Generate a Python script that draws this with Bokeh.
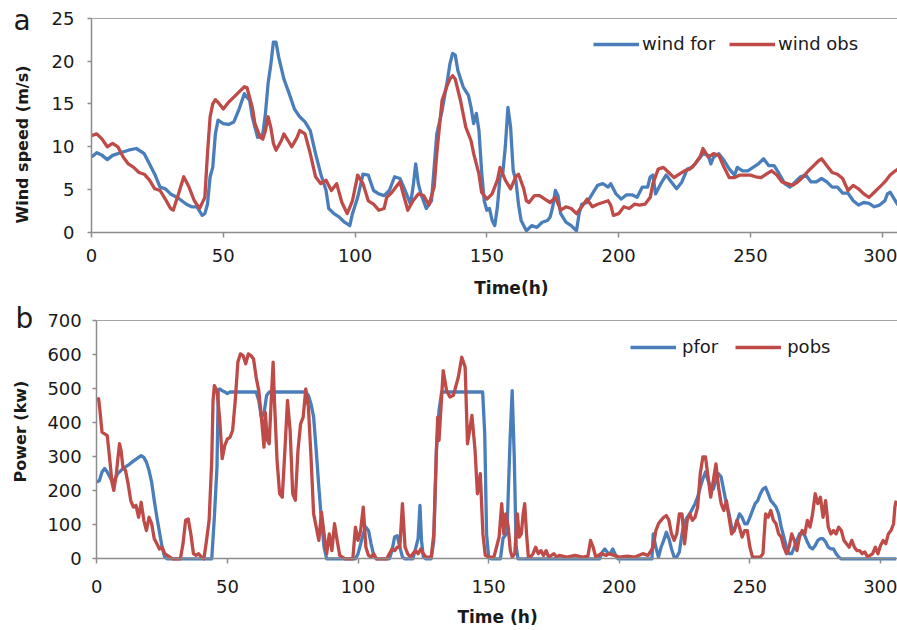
import math
from bokeh.plotting import figure
from bokeh.layouts import column
from bokeh.models import (Range1d, Label, Legend, LegendItem, FixedTicker,
                          LinearAxis)
from bokeh.embed import file_html
from bokeh.resources import INLINE

# ---------------- data ----------------
x_ticks = [0, 50, 100, 150, 200, 250, 300]
wind_ticks = [0, 5, 10, 15, 20, 25]
power_ticks = [0, 100, 200, 300, 400, 500, 600, 700]

wind_for_t = [0, 2, 4, 6, 8, 10, 14, 17, 20, 22,
              24, 26, 28, 30, 33, 36, 38, 40, 42, 43,
              44, 45, 46, 47, 48, 50, 52, 54, 56, 58,
              60, 61, 63, 65, 66, 67, 68, 69, 70, 71,
              73, 75, 77, 79, 81, 83, 85, 87, 89, 90,
              92, 94, 96, 98, 99, 101, 103, 105, 107, 109,
              111, 113, 115, 117, 119, 121, 122, 123, 124, 125,
              127, 129, 131, 133, 135, 136, 137, 138, 139, 141,
              143, 144, 145, 146, 147, 148, 149, 150, 151, 152,
              153, 154, 155, 156, 157, 158, 159, 160, 161, 162,
              163, 165, 167, 169, 171, 173, 174, 175, 176, 177,
              178, 180, 182, 184, 185, 186, 188, 190, 192, 194,
              196, 197, 199, 201, 203, 205, 207, 209, 211, 212,
              213, 214, 216, 218, 220, 222, 224, 226, 228, 230,
              232, 234, 235, 236, 238, 240, 242, 244, 245, 247,
              249, 251, 253, 255, 257, 259, 261, 263, 265, 267,
              269, 271, 273, 275, 277, 279, 281, 283, 285, 287,
              289, 291, 293, 295, 297, 299, 301, 302, 303, 305,
              306]
wind_for = [8.8, 9.3, 9.0, 8.5, 9.0, 9.2, 9.6, 9.8, 9.2, 8.0,
            6.8, 5.3, 5.1, 4.5, 4.0, 3.3, 3.0, 3.0, 2.0, 2.2,
            3.3, 6.5, 7.6, 11.5, 13.1, 12.7, 12.6, 12.9, 14.4, 16.2,
            15.4, 13.5, 11.1, 11.5, 13.9, 17.4, 19.5, 22.2, 22.2, 20.5,
            17.9, 16.2, 14.4, 13.5, 12.9, 11.9, 9.2, 6.8, 4.9, 2.8,
            2.2, 1.8, 1.2, 0.8, 2.2, 4.1, 6.8, 6.7, 4.9, 4.5,
            4.3, 4.9, 6.5, 6.3, 4.9, 3.3, 5.3, 8.0, 5.7, 4.5,
            2.8, 3.7, 11.5, 14.2, 17.7, 19.7, 20.9, 20.7, 18.9, 17.0,
            16.0, 14.6, 12.7, 13.9, 11.9, 7.2, 3.7, 2.6, 2.8, 1.4,
            0.8, 3.0, 6.5, 6.8, 10.0, 14.6, 12.3, 7.2, 6.1, 3.3,
            1.4, 0.2, 0.8, 0.6, 1.2, 1.4, 1.8, 3.0, 4.9, 4.3,
            2.2, 1.2, 0.8, 0.2, 2.2, 3.3, 3.5, 4.5, 5.5, 5.7,
            5.3, 5.7, 4.5, 3.9, 4.4, 4.4, 4.1, 5.3, 5.3, 6.5,
            6.7, 4.5, 5.7, 6.7, 5.9, 5.1, 5.9, 7.4, 7.6, 8.4,
            9.2, 9.0, 8.0, 8.8, 9.2, 8.4, 7.4, 6.7, 7.6, 7.2,
            7.2, 7.6, 8.0, 8.6, 7.8, 7.8, 6.8, 5.7, 5.3, 5.9,
            6.5, 6.7, 5.9, 5.9, 6.3, 5.9, 5.3, 5.3, 4.6, 4.6,
            3.7, 3.2, 3.5, 3.4, 3.0, 3.2, 3.7, 4.5, 4.7, 3.7,
            3.2]

wind_obs_t = [0, 2, 4, 6, 8, 10, 12, 14, 16, 18,
              20, 22, 24, 26, 28, 30, 31, 33, 35, 37,
              39, 41, 43, 44, 45, 46, 47, 48, 50, 52,
              54, 56, 58, 59, 61, 62, 64, 65, 66, 67,
              68, 69, 70, 72, 73, 75, 76, 78, 79, 81,
              83, 85, 87, 89, 91, 93, 95, 97, 99, 101,
              103, 105, 107, 109, 111, 112, 114, 116, 117, 119,
              120, 122, 124, 126, 128, 130, 131, 133, 135, 136,
              137, 138, 140, 142, 144, 145, 147, 148, 150, 152,
              154, 155, 157, 159, 161, 162, 164, 165, 166, 168,
              170, 172, 174, 176, 178, 180, 182, 184, 186, 188,
              190, 192, 194, 196, 197, 198, 200, 202, 204, 206,
              208, 210, 212, 213, 215, 217, 219, 221, 223, 225,
              227, 229, 231, 232, 234, 236, 238, 240, 242, 244,
              246, 248, 250, 252, 254, 256, 258, 260, 262, 264,
              266, 268, 270, 272, 274, 276, 277, 279, 281, 283,
              285, 287, 289, 291, 293, 295, 297, 299, 301, 303,
              305, 306]
wind_obs = [11.3, 11.5, 10.9, 10.0, 10.4, 10.0, 8.8, 8.0, 7.6, 7.0,
            6.8, 6.1, 5.1, 4.9, 3.9, 2.8, 2.6, 4.5, 6.5, 5.3,
            3.7, 2.8, 4.1, 9.2, 13.5, 15.0, 15.5, 15.2, 14.4, 15.2,
            15.8, 16.4, 17.0, 16.9, 14.6, 12.7, 11.1, 10.9, 11.9, 13.5,
            12.3, 10.4, 9.6, 10.7, 11.5, 10.5, 10.0, 11.1, 11.9, 11.5,
            9.2, 6.5, 5.7, 6.1, 4.9, 5.7, 3.5, 2.2, 3.7, 6.7,
            5.7, 3.7, 3.3, 2.6, 2.8, 4.1, 4.7, 5.5, 5.9, 3.7,
            2.6, 3.7, 4.5, 4.3, 3.2, 5.3, 9.2, 15.4, 17.2, 17.9,
            18.3, 17.9, 15.4, 12.3, 10.7, 9.2, 6.8, 4.7, 3.9, 4.5,
            6.1, 7.6, 6.1, 5.1, 6.5, 6.8, 5.1, 3.7, 3.5, 4.3,
            4.3, 3.9, 3.5, 4.1, 2.6, 3.0, 2.8, 2.2, 3.0, 3.9,
            3.0, 3.3, 3.5, 3.7, 3.2, 2.0, 2.2, 3.0, 2.8, 3.3,
            3.2, 3.3, 4.1, 5.7, 7.4, 7.6, 7.0, 6.4, 6.8, 7.2,
            7.4, 8.0, 8.9, 9.8, 8.8, 9.2, 9.0, 7.6, 6.4, 6.4,
            6.7, 6.7, 6.7, 6.5, 6.4, 6.8, 7.2, 6.7, 5.9, 5.7,
            5.5, 5.9, 6.5, 7.2, 7.8, 8.4, 8.6, 7.8, 7.0, 6.8,
            6.3, 4.9, 5.5, 5.1, 4.5, 4.1, 4.7, 5.3, 5.9, 6.7,
            7.2, 7.4]

pfor_t = [0, 1, 2, 3, 4, 5, 6, 7, 8, 10,
          12, 14, 16, 17, 18, 19, 20, 21, 22, 23,
          24, 25, 26, 27, 44, 45, 46, 46.5, 47, 48,
          49, 50, 51, 61, 62, 63, 64, 65, 66, 80,
          81, 82, 83, 84, 85, 86, 87, 88, 99, 100,
          101, 102, 103, 104, 105, 106, 107, 112, 113, 114,
          115, 116, 117, 118, 121, 122, 123, 123.7, 124.3, 125,
          126, 128, 129, 130, 131, 132, 147.7, 148.5, 149.2, 150,
          151, 154.5, 155.5, 157, 158.2, 159, 159.8, 160.5, 161.2, 192.5,
          193.5, 194.5, 195.5, 196.5, 197.5, 198.5, 199.5, 212.5, 213, 214,
          215, 216, 217, 218, 219, 220, 221, 222, 223, 224,
          225, 226, 227, 228, 229, 230, 231, 232, 233, 234,
          235, 236, 237, 238, 239, 240, 241, 242, 243, 244,
          245, 246, 247, 248, 249, 250, 251, 252, 253, 254,
          255, 256, 257, 258, 259, 260, 261, 262, 263, 264,
          265, 266, 267, 268, 269, 270, 271, 272, 273, 274,
          275, 276, 277, 278, 279, 280, 281, 282, 283, 284,
          285, 306]
pfor = [225, 230, 255, 265, 255, 240, 225, 235, 250, 265,
        275, 287, 298, 303, 298, 284, 259, 225, 171, 122,
        78, 34, 5, 0, 0, 122, 269, 494, 499, 494,
        490, 485, 490, 490, 465, 416, 426, 480, 490, 490,
        480, 455, 416, 318, 210, 113, 34, 0, 0, 15,
        44, 73, 93, 83, 44, 10, 0, 0, 24, 64,
        68, 34, 5, 0, 0, 29, 59, 157, 54, 5,
        0, 0, 54, 318, 436, 490, 490, 367, 73, 5,
        0, 0, 60, 75, 350, 494, 300, 40, 0, 0,
        20, 29, 18, 15, 29, 12, 0, 0, 73, 34,
        5, 34, 54, 78, 59, 29, 5, 5, 20, 73,
        108, 122, 132, 147, 162, 181, 210, 235, 255, 230,
        210, 205, 230, 250, 240, 201, 162, 132, 93, 83,
        108, 132, 122, 103, 103, 122, 142, 162, 171, 191,
        205, 210, 191, 171, 162, 152, 132, 93, 64, 34,
        15, 15, 34, 54, 73, 78, 68, 49, 34, 29,
        39, 54, 59, 59, 49, 34, 29, 29, 15, 5,
        0, 0]

pobs_t = [0, 0.7, 1.2, 2, 3, 4, 5, 5.8, 6.5, 7.5,
          8, 8.7, 9.3, 10, 11, 12, 13, 14, 15, 16,
          17, 18, 19, 20, 21, 22, 23, 24, 25, 26,
          27, 28, 29, 32, 33, 34, 35, 36, 37, 38,
          39, 40, 41, 42, 43, 44, 44.5, 45, 46, 47,
          48, 49, 50, 51, 52, 53, 54, 55, 56, 57,
          58, 59, 60, 61, 62, 63, 64, 64.5, 65.3, 66,
          67, 67.5, 68, 69, 70, 71, 72, 73, 74, 75,
          76, 77, 78, 79, 80, 81, 82, 83, 84, 85,
          86, 87, 88, 89, 90, 91, 92, 93, 94, 95,
          98, 99, 100, 101, 102, 103, 104, 105, 106, 107,
          111, 112, 113, 114, 115, 116, 117, 118, 119, 120,
          121, 122, 123, 124, 125, 126, 128, 129, 130, 130.5,
          131, 132.6, 133.9, 135.2, 136.5, 138.4, 139.7, 141, 141.9, 143.6,
          144.8, 145.7, 146.8, 147.8, 148.7, 150, 152, 153, 154, 155,
          155.8, 156.5, 157.5, 158.3, 159, 160, 161, 161.7, 162.5, 163.2,
          163.8, 164.5, 165.2, 166, 167, 168, 169, 170, 171, 172,
          173, 174, 175, 176, 177, 180, 183, 186, 188, 189,
          190, 191, 193, 195, 196, 198, 200, 203, 206, 209,
          211, 213, 214, 215, 216, 217, 218, 219, 220, 221,
          222, 223, 224, 225, 226, 227, 228, 229, 230, 231,
          232, 233, 234, 235, 236, 237, 238, 239, 240, 241,
          242, 243, 244, 245, 246, 247, 248, 249, 250, 251,
          254, 255, 256, 257, 258, 259, 260, 261, 262, 263,
          264, 265, 266, 267, 268, 269, 270, 271, 272, 273,
          274, 275, 276, 277, 278, 279, 280, 281, 282, 283,
          284, 285, 286, 287, 288, 289, 290, 291, 292, 293,
          294, 295, 296, 297, 298, 299, 300, 301, 302, 303,
          304, 305, 305.5, 306]
pobs = [465, 470, 436, 372, 367, 362, 289, 225, 201, 250,
        289, 338, 318, 269, 259, 220, 171, 152, 157, 122,
        166, 113, 83, 122, 103, 59, 44, 29, 34, 15,
        10, 5, 0, 0, 44, 113, 117, 73, 15, 10,
        15, 5, 0, 54, 113, 289, 465, 509, 494, 416,
        294, 333, 352, 357, 377, 465, 578, 602, 597, 573,
        602, 597, 587, 533, 494, 416, 328, 430, 348, 338,
        504, 578, 465, 289, 191, 181, 318, 465, 377, 191,
        172, 318, 396, 416, 499, 445, 299, 132, 93, 54,
        137, 73, 15, 73, 24, 103, 54, 10, 5, 0,
        0, 93, 54, 83, 152, 34, 10, 5, 15, 0,
        0, 15, 29, 24, 34, 34, 162, 34, 15, 5,
        15, 24, 15, 29, 15, 5, 5, 73, 318, 416,
        348, 553, 494, 475, 480, 534, 592, 563, 338, 421,
        318, 191, 250, 73, 10, 5, 5, 34, 64, 162,
        73, 132, 93, 24, 5, 15, 132, 64, 73, 132,
        162, 73, 5, 5, 15, 34, 15, 24, 10, 24,
        5, 10, 15, 5, 10, 5, 10, 5, 8, 54,
        34, 5, 15, 10, 15, 10, 5, 8, 5, 15,
        10, 34, 83, 103, 113, 122, 127, 113, 73, 54,
        73, 132, 132, 44, 113, 132, 113, 122, 152, 250,
        299, 299, 240, 181, 230, 279, 210, 162, 142, 171,
        122, 73, 83, 113, 93, 64, 83, 83, 34, 5,
        5, 15, 132, 122, 142, 113, 103, 73, 64, 34,
        15, 34, 73, 54, 24, 64, 83, 73, 113, 93,
        132, 191, 162, 181, 122, 171, 93, 73, 83, 73,
        93, 83, 54, 44, 34, 54, 34, 24, 24, 15,
        20, 5, 10, 15, 34, 15, 39, 54, 44, 73,
        83, 103, 152, 171]

# ---------------- style ----------------
BLUE = "#4A7EBB"
RED = "#BE4B48"
AXIS = "#8C8C8C"
FRAME = "#A6A6A6"
TXT = "#1A1A1A"
FONT = "DejaVu Sans"
W = 897
LW = 3.3


def make_panel(height, xr, yr, yticks, y_top, x_standoff, y_standoff):
    # The frame fills the whole canvas; axes are pinned at x=0 / y=0 so
    # that panel letters and axis titles can live inside the frame.
    p = figure(width=W, height=height, output_backend="svg",
               toolbar_location=None, x_axis_location=None,
               y_axis_location=None,
               x_range=Range1d(*xr), y_range=Range1d(*yr),
               min_border=0, min_border_left=0, min_border_right=0,
               min_border_top=0, min_border_bottom=0)
    p.title.visible = False
    p.outline_line_color = None
    p.xgrid.visible = False
    p.ygrid.visible = False
    p.background_fill_color = "white"
    p.border_fill_color = "white"

    xax = LinearAxis(fixed_location=0, bounds=(0, xr[1]),
                     ticker=FixedTicker(ticks=x_ticks))
    yax = LinearAxis(fixed_location=0, bounds=(0, y_top),
                     ticker=FixedTicker(ticks=yticks))
    top = LinearAxis(fixed_location=y_top, bounds=(0, xr[1]),
                     ticker=FixedTicker(ticks=[]),
                     axis_line_color=FRAME, axis_line_width=1.2,
                     major_tick_line_color=None,
                     minor_tick_line_color=None,
                     major_label_text_font_size="0px")
    for ax in (xax, yax):
        ax.axis_line_color = AXIS
        ax.axis_line_width = 1.5
        ax.major_tick_line_color = AXIS
        ax.major_tick_line_width = 1.5
        ax.major_tick_in = 0
        ax.minor_tick_line_color = None
        ax.major_label_text_font = FONT
        ax.major_label_text_font_size = "18px"
        ax.major_label_text_color = TXT
    xax.major_tick_out = 5
    yax.major_tick_out = 4
    xax.major_label_standoff = x_standoff
    yax.major_label_standoff = y_standoff
    p.add_layout(xax, "below")
    p.add_layout(yax, "left")
    p.add_layout(top, "above")
    return p


def add_label(p, text, x, y, size, bold=True, angle=0.0,
              align="center", baseline="middle"):
    p.add_layout(Label(x=x, y=y, text=text, angle=angle, text_font=FONT,
                       text_font_size=size,
                       text_font_style="bold" if bold else "normal",
                       text_color=TXT, text_align=align,
                       text_baseline=baseline))


def add_legend(p, renderers, labels, loc, standoff, spacing):
    items = [LegendItem(label=l, renderers=[r])
             for l, r in zip(labels, renderers)]
    leg = Legend(items=items, orientation="horizontal", location=loc,
                 glyph_width=46, glyph_height=18, label_height=18,
                 label_standoff=standoff, spacing=spacing,
                 padding=0, margin=0, border_line_color=None,
                 background_fill_alpha=0, label_text_font=FONT,
                 label_text_font_size="18px", label_text_color=TXT)
    p.add_layout(leg)


# ---------------- panel a ----------------
# pixel anchors: x=0 at 91px, x=300 at 881.7px; y=0 at 232px, y=25 at 17.7px
p1 = make_panel(300, (-34.53, 305.8), (-7.933, 27.065), wind_ticks,
                wind_ticks[-1], x_standoff=12, y_standoff=13)
r1 = p1.line(wind_for_t, wind_for, line_color=BLUE, line_width=LW,
             line_join="round")
r2 = p1.line(wind_obs_t, wind_obs, line_color=RED, line_width=LW,
             line_join="round")
add_legend(p1, [r1, r2], ["wind for", "wind obs"], (593, 246), 3, 14)
add_label(p1, "Wind speed (m/s)", -26.2, 10.27, "16px",
          angle=math.pi / 2)
add_label(p1, "Time(h)", 159.3, -6.42, "17px")
add_label(p1, "a", -29.6, 24.75, "28px", bold=False, align="left",
          baseline="alphabetic")

# ---------------- panel b ----------------
# pixel anchors: x=0 at 96.3px, x=300 at 880px; y=0 at 258.3px, y=700 at 20px
p2 = make_panel(329, (-36.86, 306.5), (-207.7, 758.75), power_ticks,
                power_ticks[-1], x_standoff=16, y_standoff=11)
r3 = p2.line(pfor_t, pfor, line_color=BLUE, line_width=LW,
             line_join="round")
r4 = p2.line(pobs_t, pobs, line_color=RED, line_width=LW,
             line_join="round")
add_legend(p2, [r3, r4], ["pfor", "pobs"], (630, 272), 6, 17)
add_label(p2, "Power (kw)", -29.2, 373.9, "16px", angle=math.pi / 2)
add_label(p2, "Time (h)", 153.4, -172.4, "17px")
add_label(p2, "b", -31.1, 706.5, "28px", bold=False, align="left",
          baseline="alphabetic")

layout = column(p1, p2)
open("out.html", "w").write(file_html(layout, INLINE))
